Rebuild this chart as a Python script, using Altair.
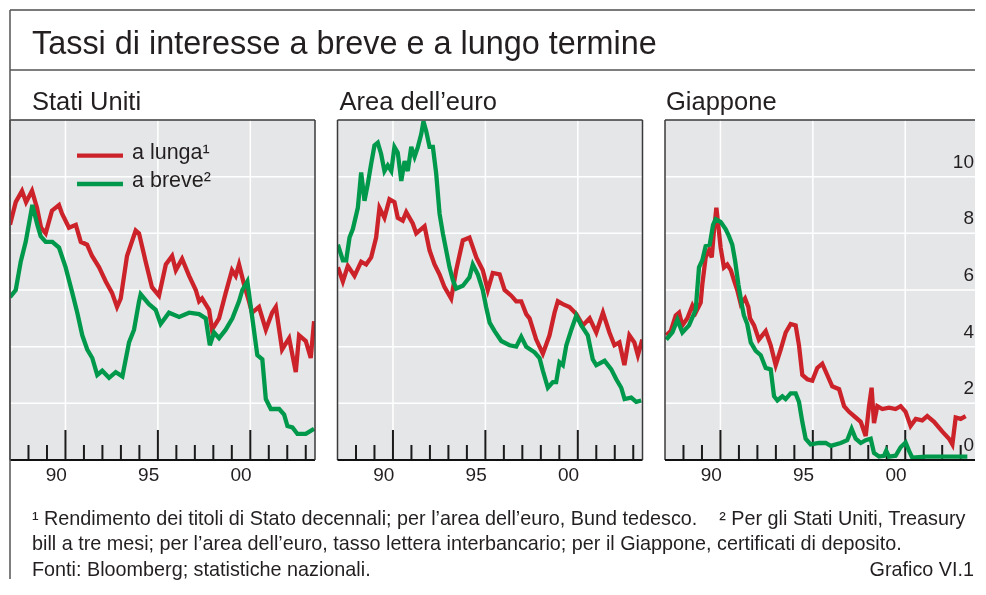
import altair as alt
import pandas as pd

# ---------------- text ----------------
TITLE = "Tassi di interesse a breve e a lungo termine"
PANEL_TITLES = ["Stati Uniti", "Area dell’euro", "Giappone"]
SERIES = ["a lunga¹", "a breve²"]
FOOTNOTE_1 = ("¹ Rendimento dei titoli di Stato decennali; per l’area dell’euro, Bund tedesco."
              "\u00a0\u00a0\u00a0\u00a0² Per gli Stati Uniti, Treasury")
FOOTNOTE_2 = ("bill a tre mesi; per l’area dell’euro, tasso lettera interbancario; "
              "per il Giappone, certificati di deposito.")
SOURCE = "Fonti: Bloomberg; statistiche nazionali."
CHART_ID = "Grafico VI.1"

# ---------------- axes ----------------
X_MIN, X_MAX, X_MAX_JP = 1988.0, 2004.5, 2004.775
Y_MIN, Y_MAX = 0, 12
Y_GRID = [2, 4, 6, 8, 10]
X_GRID = [1991, 1996, 2001]
MINOR_TICKS = [1989, 1990, 1992, 1993, 1994, 1995, 1997, 1998, 1999, 2000, 2002, 2003, 2004]
MAJOR_TICKS = [1991, 1996, 2001]
X_LABEL_POS = [1990.5, 1995.5, 2000.5]
X_LABELS = ["90", "95", "00"]
Y_LABEL_VALUES = [0, 2, 4, 6, 8, 10]
Y_LABELS = ["0", "2", "4", "6", "8", "10"]

# ---------------- data ----------------
US_LONG_T = [1988.00, 1988.31, 1988.65, 1988.87, 1989.19, 1989.46, 1989.68, 1989.93, 1990.27, 1990.65,
             1990.81, 1991.19, 1991.56, 1991.83, 1992.17, 1992.44, 1992.82, 1993.18, 1993.52, 1993.79,
             1993.99, 1994.33, 1994.80, 1994.98, 1995.34, 1995.68, 1996.06, 1996.43, 1996.77, 1996.97,
             1997.31, 1997.69, 1998.05, 1998.23, 1998.39, 1998.77, 1998.93, 1999.31, 1999.67, 2000.01,
             2000.21, 2000.39, 2000.66, 2000.93, 2001.09, 2001.47, 2001.84, 2002.18, 2002.38, 2002.72,
             2003.10, 2003.46, 2003.64, 2004.00, 2004.27, 2004.45]
US_LONG_V = [8.3, 9.1, 9.5, 9.1, 9.5, 8.9, 8.2, 8.0, 8.8, 9.0,
             8.7, 8.2, 8.3, 7.7, 7.6, 7.2, 6.8, 6.3, 5.9, 5.4,
             5.7, 7.2, 8.1, 8.0, 7.0, 6.1, 5.8, 6.9, 7.2, 6.7,
             7.1, 6.5, 6.0, 5.6, 5.7, 5.3, 4.6, 5.0, 5.9, 6.7,
             6.5, 6.9, 6.2, 5.6, 5.2, 5.4, 4.6, 5.2, 5.4, 3.9,
             4.3, 3.1, 4.4, 4.2, 3.6, 4.9]
US_SHORT_T = [1988.00, 1988.31, 1988.58, 1988.85, 1989.21, 1989.48, 1989.66, 1989.93, 1990.29, 1990.65,
              1991.01, 1991.37, 1991.64, 1991.91, 1992.18, 1992.45, 1992.72, 1992.99, 1993.36, 1993.72,
              1994.08, 1994.44, 1994.71, 1994.98, 1995.07, 1995.52, 1995.88, 1996.15, 1996.60, 1997.15,
              1997.69, 1998.23, 1998.59, 1998.81, 1999.04, 1999.31, 1999.67, 2000.03, 2000.39, 2000.57,
              2000.84, 2001.11, 2001.38, 2001.65, 2001.84, 2002.11, 2002.56, 2002.83, 2003.01, 2003.28,
              2003.55, 2004.00, 2004.45]
US_SHORT_V = [5.75, 6.0, 7.0, 7.7, 9.0, 8.3, 7.9, 7.7, 7.7, 7.5,
              6.8, 5.9, 5.2, 4.4, 3.9, 3.6, 3.0, 3.15, 2.9, 3.1,
              2.95, 4.15, 4.6, 5.6, 5.85, 5.5, 5.3, 4.8, 5.2, 5.05,
              5.2, 5.15, 5.0, 4.05, 4.5, 4.3, 4.6, 5.0, 5.6, 6.0,
              6.3, 5.0, 3.7, 3.55, 2.15, 1.8, 1.8, 1.6, 1.2, 1.15,
              0.92, 0.92, 1.1]

EA_LONG_T = [1988.02, 1988.29, 1988.56, 1988.92, 1989.28, 1989.55, 1989.82, 1990.09, 1990.27, 1990.54,
             1990.81, 1991.08, 1991.26, 1991.53, 1991.72, 1992.07, 1992.26, 1992.53, 1992.71, 1992.98,
             1993.25, 1993.52, 1993.79, 1994.15, 1994.42, 1994.78, 1995.14, 1995.51, 1995.86, 1996.13,
             1996.40, 1996.77, 1997.04, 1997.40, 1997.67, 1997.94, 1998.21, 1998.39, 1998.75, 1999.11,
             1999.47, 1999.74, 1999.92, 2000.19, 2000.55, 2000.92, 2001.27, 2001.64, 2002.00, 2002.36,
             2002.71, 2002.98, 2003.25, 2003.52, 2003.79, 2004.06, 2004.25, 2004.49]
EA_LONG_V = [6.8, 6.3, 6.85, 6.5, 7.0, 6.9, 7.15, 7.85, 8.9, 8.55,
             9.2, 9.1, 8.55, 8.45, 8.75, 8.35, 8.0, 8.15, 8.25, 7.4,
             6.9, 6.55, 6.1, 5.7, 6.7, 7.75, 7.85, 7.15, 6.7, 6.0,
             6.6, 6.55, 6.0, 5.8, 5.6, 5.6, 5.15, 5.0, 4.25, 3.75,
             4.4, 5.2, 5.6, 5.5, 5.4, 5.15, 4.75, 5.0, 4.5, 5.2,
             4.5, 4.05, 4.15, 3.35, 4.4, 4.15, 3.7, 4.25]
EA_SHORT_T = [1988.02, 1988.29, 1988.47, 1988.65, 1988.83, 1989.10, 1989.28, 1989.46, 1989.64, 1989.82,
              1990.00, 1990.18, 1990.36, 1990.54, 1990.72, 1990.91, 1991.08, 1991.26, 1991.45, 1991.63,
              1991.80, 1991.99, 1992.17, 1992.35, 1992.53, 1992.65, 1992.80, 1992.98, 1993.16, 1993.34,
              1993.52, 1993.70, 1993.88, 1994.06, 1994.24, 1994.42, 1994.78, 1995.14, 1995.32, 1995.59,
              1995.86, 1996.04, 1996.23, 1996.50, 1996.86, 1997.31, 1997.67, 1997.94, 1998.21, 1998.66,
              1998.93, 1999.11, 1999.38, 1999.65, 1999.83, 2000.01, 2000.19, 2000.38, 2000.65, 2000.92,
              2001.19, 2001.54, 2001.81, 2002.00, 2002.45, 2002.81, 2003.08, 2003.35, 2003.53, 2003.89,
              2004.16, 2004.43]
EA_SHORT_V = [7.6, 7.05, 7.05, 7.85, 8.15, 8.9, 10.15, 9.15, 9.75, 10.45,
              11.1, 11.2, 10.8, 10.2, 10.4, 10.2, 11.05, 10.85, 9.85, 10.55,
              10.2, 11.05, 10.7, 11.05, 11.5, 11.95, 11.6, 11.05, 11.05, 10.1,
              8.7, 8.0, 7.4, 6.8, 6.35, 6.05, 6.15, 6.45, 6.9, 6.55,
              6.0, 5.4, 4.85, 4.55, 4.2, 4.05, 4.0, 4.35, 4.0, 3.8,
              3.6, 3.15, 2.55, 2.75, 2.75, 3.45, 3.35, 4.05, 4.6, 5.1,
              4.75, 4.4, 3.55, 3.35, 3.5, 3.2, 2.85, 2.55, 2.15, 2.2,
              2.05, 2.1]

JP_LONG_T = [1988.07, 1988.31, 1988.58, 1988.76, 1988.94, 1989.21, 1989.48, 1989.66, 1989.93, 1990.02,
             1990.20, 1990.38, 1990.53, 1990.65, 1990.78, 1990.88, 1991.01, 1991.19, 1991.37, 1991.56,
             1991.73, 1991.91, 1992.10, 1992.33, 1992.51, 1992.60, 1992.82, 1993.08, 1993.45, 1993.72,
             1993.99, 1994.26, 1994.53, 1994.80, 1995.07, 1995.25, 1995.43, 1995.70, 1995.97, 1996.24,
             1996.51, 1996.78, 1997.05, 1997.42, 1997.69, 1997.96, 1998.32, 1998.59, 1998.86, 1999.04,
             1999.18, 1999.31, 1999.49, 1999.76, 2000.12, 2000.48, 2000.75, 2001.02, 2001.29, 2001.57,
             2001.92, 2002.19, 2002.56, 2003.01, 2003.37, 2003.55, 2003.73, 2004.00, 2004.27]
JP_LONG_V = [4.4, 4.55, 5.1, 5.2, 4.75, 5.0, 5.45, 5.2, 5.55, 6.2,
             7.15, 7.4, 7.15, 8.1, 8.9, 8.3, 7.5, 6.8, 6.9, 6.7,
             6.35, 6.0, 5.5, 5.7, 5.4, 5.0, 4.75, 4.25, 4.55, 4.05,
             3.35, 3.9, 4.5, 4.8, 4.75, 4.05, 3.0, 2.85, 2.8, 3.25,
             3.4, 3.0, 2.6, 2.5, 1.9, 1.7, 1.5, 1.35, 0.85, 1.9,
             2.55, 1.3, 1.9, 1.8, 1.85, 1.8, 1.9, 1.7, 1.2, 1.45,
             1.4, 1.55, 1.35, 1.0, 0.75, 0.55, 1.5, 1.45, 1.55]
JP_SHORT_T = [1988.07, 1988.40, 1988.67, 1988.94, 1989.30, 1989.66, 1989.84, 1990.02, 1990.20, 1990.42,
              1990.60, 1990.74, 1991.01, 1991.28, 1991.46, 1991.64, 1991.79, 1991.97, 1992.15, 1992.27,
              1992.45, 1992.64, 1992.91, 1993.18, 1993.45, 1993.72, 1993.90, 1994.08, 1994.35, 1994.53,
              1994.80, 1995.07, 1995.25, 1995.43, 1995.61, 1995.88, 1996.33, 1996.70, 1996.97, 1997.51,
              1997.86, 1998.10, 1998.32, 1998.59, 1998.86, 1999.13, 1999.31, 1999.58, 1999.85, 1999.97,
              2000.12, 2000.48, 2000.75, 2001.02, 2001.20, 2001.38, 2002.11, 2003.01, 2004.36]
JP_SHORT_V = [4.25, 4.5, 4.95, 4.5, 4.75, 5.3, 6.8, 7.05, 7.55, 7.6,
              8.3, 8.5, 8.4, 8.15, 7.9, 7.6, 7.05, 6.2, 5.5, 5.1,
              4.8, 4.15, 3.85, 3.7, 3.25, 3.2, 2.25, 2.1, 2.25, 2.15,
              2.35, 2.35, 2.05, 1.35, 0.75, 0.55, 0.6, 0.6, 0.5, 0.6,
              0.7, 1.1, 0.75, 0.6, 0.7, 0.75, 0.25, 0.12, 0.15, 0.33,
              0.12, 0.15, 0.45, 0.62, 0.33, 0.08, 0.12, 0.12, 0.12]

# ---------------- style ----------------
FONT = "Liberation Sans, Arial, Helvetica, sans-serif"
TEXT_COLOR = "#231f20"
SERIES_COLORS = ["#cc2229", "#00994c"]
PANEL_BG = "#e5e6e8"
GRID_COLOR = "#ffffff"
TICK_COLOR = "#1a1a1a"
BORDER_COLOR = "#3a3a3a"
FRAME_COLOR = "#7a7a7a"
W, W_JP, H = 305, 310, 340
SPACING = 22.5

DUMMY = pd.DataFrame({"d": [0]})


def hline(y, x1, x2, color, width):
    return alt.Chart(DUMMY).mark_rule(color=color, strokeWidth=width).encode(
        x=alt.value(x1), x2=alt.value(x2), y=alt.value(y))


def vline(x, y1, y2, color, width):
    return alt.Chart(DUMMY).mark_rule(color=color, strokeWidth=width).encode(
        x=alt.value(x), y=alt.value(y1), y2=alt.value(y2))


def label(text, x, y, size, align="left"):
    return alt.Chart(pd.DataFrame({"text": [text]})).mark_text(
        font=FONT, fontSize=size, align=align, baseline="alphabetic", color=TEXT_COLOR
    ).encode(text="text:N", x=alt.value(x), y=alt.value(y))


def panel(title, title_dx, width, xmax, long_t, long_v, short_t, short_v,
          right_border=True, y_labels=False, extra=()):
    xs = alt.Scale(domain=[X_MIN, xmax], nice=False, zero=False)
    ys = alt.Scale(domain=[Y_MIN, Y_MAX], nice=False, zero=False)

    def xe():
        return alt.X("t:Q", scale=xs, axis=None)

    def ye():
        return alt.Y("v:Q", scale=ys, axis=None)

    hgrid = alt.Chart(pd.DataFrame({"v": Y_GRID})).mark_rule(
        color=GRID_COLOR, strokeWidth=1.5).encode(y=ye())
    vgrid = alt.Chart(pd.DataFrame({"t": X_GRID})).mark_rule(
        color=GRID_COLOR, strokeWidth=1.5).encode(x=xe())
    minor = alt.Chart(pd.DataFrame({"t": MINOR_TICKS})).mark_rule(
        color=TICK_COLOR, strokeWidth=2).encode(x=xe(), y=alt.value(H), y2=alt.value(H - 15))
    major = alt.Chart(pd.DataFrame({"t": MAJOR_TICKS})).mark_rule(
        color=TICK_COLOR, strokeWidth=2).encode(x=xe(), y=alt.value(H), y2=alt.value(H - 30))

    df = pd.concat([
        pd.DataFrame({"t": long_t, "v": long_v, "s": SERIES[0]}),
        pd.DataFrame({"t": short_t, "v": short_v, "s": SERIES[1]}),
    ])
    lines = alt.Chart(df).mark_line(strokeWidth=4.3, blend="multiply", clip=True).encode(
        x=xe(), y=ye(),
        color=alt.Color("s:N", scale=alt.Scale(domain=SERIES, range=SERIES_COLORS), legend=None))

    xlab = alt.Chart(pd.DataFrame({"t": X_LABEL_POS, "label": X_LABELS})).mark_text(
        font=FONT, fontSize=19, align="center", baseline="alphabetic", color=TEXT_COLOR
    ).encode(x=xe(), y=alt.value(H + 20.5), text="label:N")

    layers = [hgrid, vgrid, minor, major, lines, xlab,
              hline(0, 0, width, BORDER_COLOR, 1.5),
              vline(0, 0, H, BORDER_COLOR, 1.5),
              hline(H, 0, width, "#111111", 2),
              label(title, title_dx, -10, 25.5)]
    if right_border:
        layers.append(vline(width, 0, H, BORDER_COLOR, 1.5))
    if y_labels:
        layers.append(alt.Chart(pd.DataFrame({"v": Y_LABEL_VALUES, "label": Y_LABELS})).mark_text(
            font=FONT, fontSize=19, align="right", baseline="alphabetic", dy=-9,
            color=TEXT_COLOR
        ).encode(y=ye(), x=alt.value(width - 1), text="label:N"))
    layers.extend(extra)
    return alt.layer(*layers).properties(width=width, height=H)


# legend + frame + titles + footnotes placed in panel 1
legend_layers = []
for i, (name, col) in enumerate(zip(SERIES, SERIES_COLORS)):
    y_line = 35.7 + i * 28.3
    legend_layers.append(alt.Chart(DUMMY).mark_rule(color=col, strokeWidth=4.3).encode(
        x=alt.value(67), x2=alt.value(113), y=alt.value(y_line)))
    legend_layers.append(label(name, 122, y_line + 3, 21.5))

TOTAL_W = W + SPACING + W + SPACING + W_JP
frame_layers = [
    hline(-110, 0, TOTAL_W, FRAME_COLOR, 2),
    hline(-50, 0, TOTAL_W, "#555555", 1.5),
    vline(0, -110, 459, "#555555", 1.5),
    label(TITLE, 22, -66, 32.4),
    label(FOOTNOTE_1, 22, 405, 19.8),
    label(FOOTNOTE_2, 22, 430, 19.8),
    label(SOURCE, 22, 456, 19.8),
    label(CHART_ID, TOTAL_W - 1, 456, 19.8, align="right"),
]

p1 = panel(PANEL_TITLES[0], 22, W, X_MAX, US_LONG_T, US_LONG_V, US_SHORT_T, US_SHORT_V,
           extra=legend_layers + frame_layers)
p2 = panel(PANEL_TITLES[1], 2, W, X_MAX, EA_LONG_T, EA_LONG_V, EA_SHORT_T, EA_SHORT_V)
p3 = panel(PANEL_TITLES[2], 1, W_JP, X_MAX_JP, JP_LONG_T, JP_LONG_V, JP_SHORT_T, JP_SHORT_V,
           right_border=False, y_labels=True)

chart = alt.hconcat(p1, p2, p3, spacing=SPACING, bounds="flush").properties(
    padding={"left": 1, "top": 1, "right": 0, "bottom": 0}
).configure_view(fill=PANEL_BG, stroke=PANEL_BG, strokeWidth=0)

chart.save("out.html", embed_options={"renderer": "svg", "actions": False})
